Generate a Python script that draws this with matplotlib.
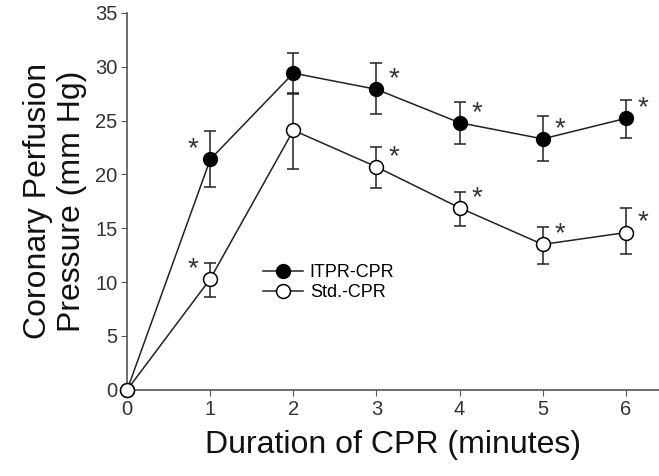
import matplotlib
matplotlib.use("Agg")
import matplotlib.pyplot as plt

plt.rcParams['font.family'] = ['Liberation Sans', 'DejaVu Sans']

minutes = [0, 1, 2, 3, 4, 5, 6]
itpr = [0, 21.4, 29.4, 27.9, 24.8, 23.3, 25.2]
itpr_lo = [0, 2.6, 1.9, 2.3, 2.0, 2.1, 1.8]
itpr_hi = [0, 2.6, 1.9, 2.4, 1.9, 2.1, 1.7]
std = [0, 10.3, 24.1, 20.7, 16.9, 13.5, 14.6]
std_lo = [0, 1.7, 3.6, 2.0, 1.7, 1.8, 2.0]
std_hi = [0, 1.5, 3.5, 1.8, 1.5, 1.6, 2.3]
itpr_star = [False, True, False, True, True, True, True]
std_star = [False, True, False, True, True, True, True]

xticks = [0, 1, 2, 3, 4, 5, 6]
yticks = [0, 5, 10, 15, 20, 25, 30, 35]

fig = plt.figure(figsize=(6.59, 4.76), dpi=100)
ax = fig.add_axes([0.193, 0.181, 0.807, 0.792])

lc = '#222222'
c1 = ax.errorbar(minutes, itpr, yerr=[itpr_lo, itpr_hi], fmt='-o', color=lc,
                 mfc='black', mec='black', ms=10, lw=1.1, elinewidth=1.1,
                 capsize=4.5, capthick=1.1, label='ITPR-CPR', clip_on=False, zorder=3)
c2 = ax.errorbar(minutes, std, yerr=[std_lo, std_hi], fmt='-o', color=lc,
                 mfc='white', mec='black', ms=10, mew=1.1, lw=1.1, elinewidth=1.1,
                 capsize=4.5, capthick=1.1, label='Std.-CPR', clip_on=False, zorder=4)

def stars(vals, flags):
    for x, v, f in zip(minutes, vals, flags):
        if not f:
            continue
        dx = -17 if x == 1 else 17
        ax.annotate('*', (x, v), xytext=(dx, 10), textcoords='offset pixels',
                    ha='center', va='center', fontsize=20, color='#333333')

stars(itpr, itpr_star)
stars(std, std_star)

ax.set_xlim(0, 6.4)
ax.set_ylim(0, 35)
ax.set_xticks(xticks)
ax.set_yticks(yticks)
for s in ['top', 'right']:
    ax.spines[s].set_visible(False)
for s in ['left', 'bottom']:
    ax.spines[s].set_color('#555555')
    ax.spines[s].set_linewidth(1.2)
ax.tick_params(axis='both', labelsize=14.5, labelcolor='#333333', color='#555555',
               length=4, direction='out', pad=3)

ax.set_xlabel('Duration of CPR (minutes)', fontsize=23, color='#111111', labelpad=8)
ax.set_ylabel('Coronary Perfusion\nPressure (mm Hg)', fontsize=23, color='#111111',
              labelpad=6, linespacing=1.15)

leg = ax.legend(handles=[c1[0], c2[0]], labels=['ITPR-CPR', 'Std.-CPR'],
                loc='center left', bbox_to_anchor=(0.255, 0.284), frameon=False,
                fontsize=13, handlelength=2.2, handletextpad=0.4, labelspacing=0.15,
                borderpad=0, borderaxespad=0)

fig.savefig('out.png', dpi=100)
